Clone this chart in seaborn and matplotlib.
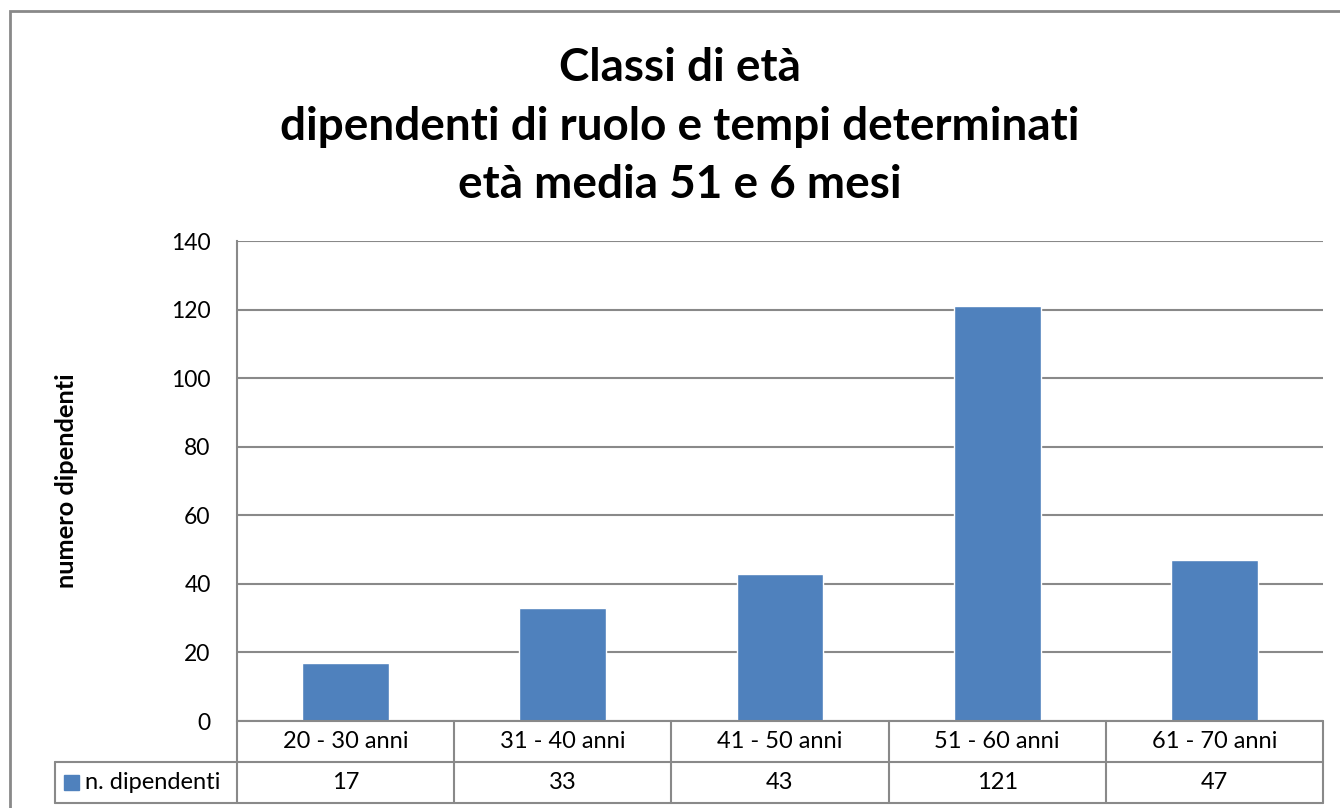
import matplotlib
matplotlib.use("Agg")
import seaborn as sns
import pandas as pd
from matplotlib import pyplot as plt
from matplotlib.patches import Rectangle

### data
categories = ["20 - 30 anni", "31 - 40 anni", "41 - 50 anni", "51 - 60 anni", "61 - 70 anni"]
dipendenti = [17, 33, 43, 121, 47]
series_name = "n. dipendenti"
y_ticks = [0, 20, 40, 60, 80, 100, 120, 140]
title_lines = ["Classi di età", "dipendenti di ruolo e tempi determinati", "età media 51 e 6 mesi"]

bar_color = "#4F81BD"
line_gray = "#898989"

sns.set_style("white")
plt.rcParams["font.family"] = ["Lato", "DejaVu Sans"]
plt.rcParams["text.color"] = "black"
plt.rcParams["ytick.labelcolor"] = "black"
plt.rcParams["axes.labelcolor"] = "black"

df = pd.DataFrame({"classe": categories, "n": dipendenti})

W, H = 1340, 808
fig = plt.figure(figsize=(W / 100, H / 100), dpi=100)

# plot area in pixel coords of the reference
x0, x1, ytop, ybot = 237, 1323, 241, 721
ax = fig.add_axes([x0 / W, 1 - ybot / H, (x1 - x0) / W, (ybot - ytop) / H])

sns.barplot(data=df, x="classe", y="n", color=bar_color, saturation=1, width=0.4, ax=ax)
ax.set_xlim(-0.5, len(categories) - 0.5)
ax.set_ylim(0, 140)
ax.set_yticks(y_ticks)
ax.set_yticklabels([str(t) for t in y_ticks], fontsize=16.5)
ax.yaxis.grid(True, color=line_gray, linewidth=1.5)
ax.set_axisbelow(True)
for s in ["top", "right", "bottom"]:
    ax.spines[s].set_visible(False)
ax.spines["left"].set_color(line_gray)
ax.spines["left"].set_linewidth(1.5)
ax.tick_params(axis="y", length=4, color=line_gray, width=1.5, pad=15)
ax.set_xticks([])
ax.set_xlabel("")
ax.set_ylabel("numero dipendenti", fontsize=18.3, fontweight="bold")
ax.yaxis.set_label_coords((78 - x0) / (x1 - x0), 0.5)

# data table below the plot
ph = ybot - ytop
row1 = -(762 - ybot) / ph
row2 = -(803 - ybot) / ph
legx = (55 - x0) / (x1 - x0)
n = len(categories)
kw = dict(transform=ax.transAxes, clip_on=False, color=line_gray, linewidth=1.5)
ax.plot([0, 1], [0, 0], **kw)
ax.plot([legx, 1], [row1, row1], **kw)
ax.plot([legx, 1], [row2, row2], **kw)
ax.plot([legx, legx], [row1, row2], **kw)
for i in range(n + 1):
    ax.plot([i / n, i / n], [0, row2], **kw)
for i, (c, v) in enumerate(zip(categories, dipendenti)):
    xc = (i + 0.5) / n
    ax.text(xc, row1 / 2, c, transform=ax.transAxes, ha="center", va="center", fontsize=17)
    ax.text(xc, (row1 + row2) / 2, str(v), transform=ax.transAxes, ha="center", va="center", fontsize=17)
ax.add_patch(Rectangle((legx + 9 / (x1 - x0), (row1 + row2) / 2 - 7 / ph), 15 / (x1 - x0), 15 / ph,
                       transform=ax.transAxes, clip_on=False, color=bar_color))
ax.text(legx + 30 / (x1 - x0), (row1 + row2) / 2, series_name, transform=ax.transAxes,
        ha="left", va="center", fontsize=17)

# title, one line at a time
for line, yc in zip(title_lines, [68, 127, 185]):
    fig.text(680 / W, 1 - yc / H, line, ha="center", va="center",
             fontsize=33, fontweight="bold")

# outer chart border (cut off at right and bottom)
fig.add_artist(Rectangle((9.5 / W, -0.01), 1.1, 1 - 11 / H + 0.01, transform=fig.transFigure,
                         fill=False, edgecolor=line_gray, linewidth=2))

fig.savefig("out.png", dpi=100)
